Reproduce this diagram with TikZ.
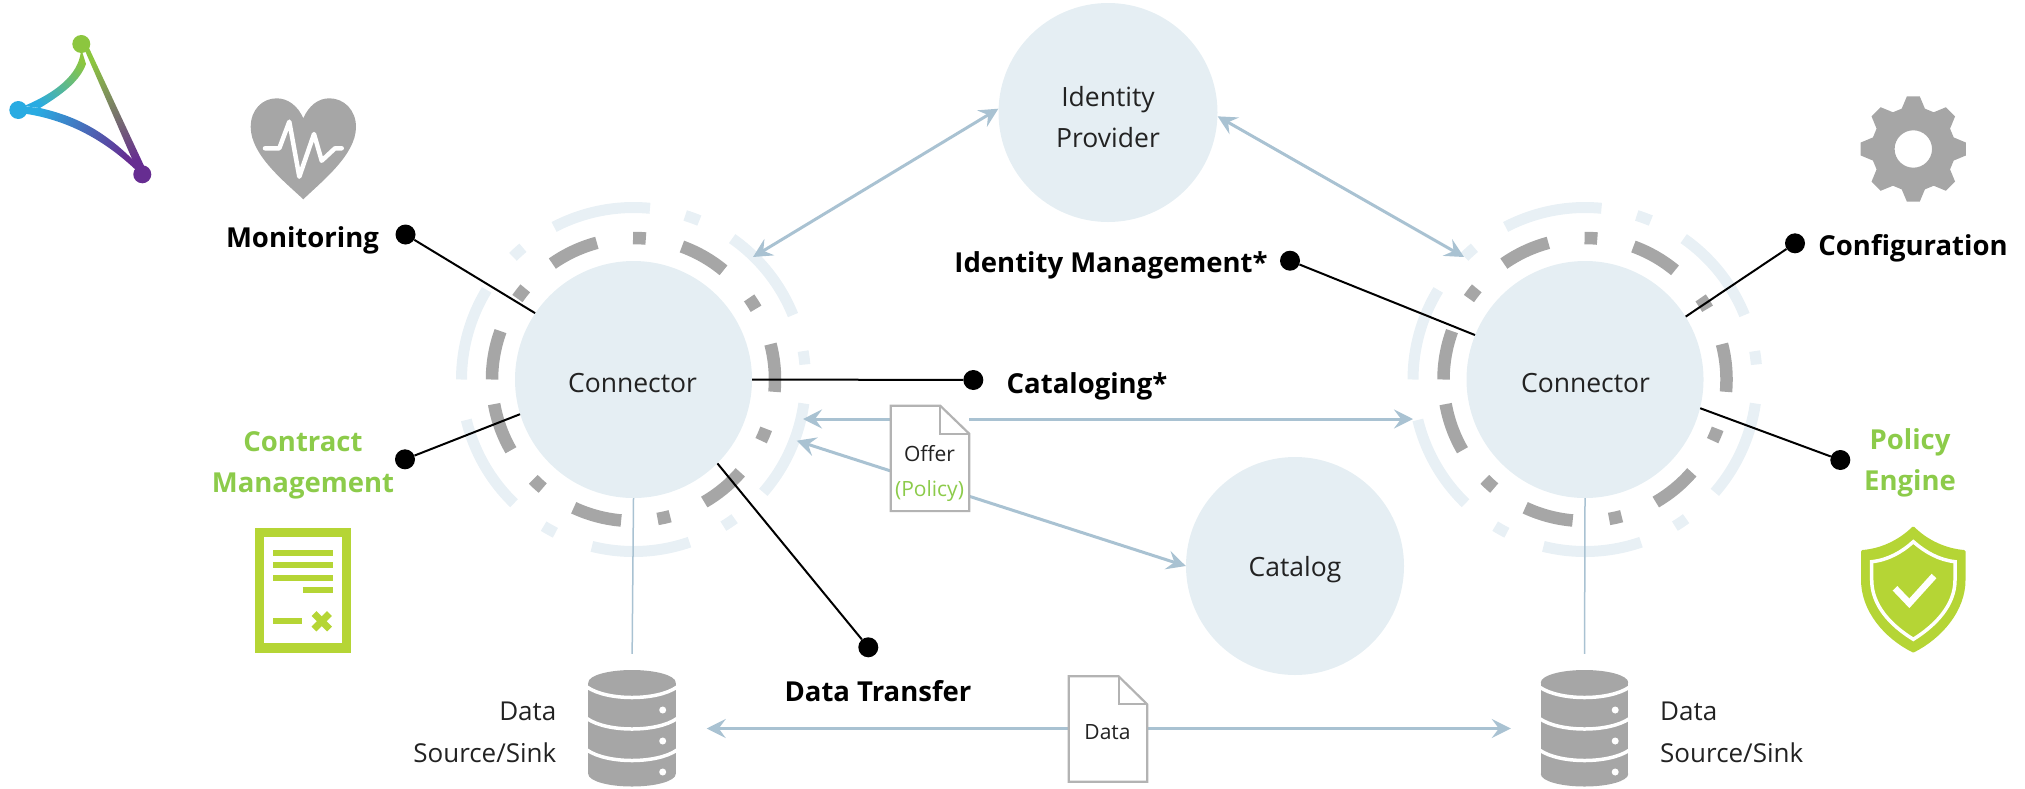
\documentclass[tikz,border=0pt]{standalone}
\usepackage{fontspec}
\usepackage{xcolor}
\usetikzlibrary{arrows.meta}
\setmainfont{Open Sans}
\definecolor{circlefill}{HTML}{E5EEF3}
\definecolor{ringfill}{HTML}{E8F0F5}
\definecolor{flowblue}{HTML}{A9C2D2}
\definecolor{icongray}{HTML}{A6A6A6}
\definecolor{icongreen}{HTML}{B5D535}
\definecolor{textgreen}{HTML}{8CCB4A}
\definecolor{docgray}{HTML}{B3B3B3}
\definecolor{textdark}{HTML}{222222}
\definecolor{logogreen}{HTML}{8CC63F}
\definecolor{logoblue}{HTML}{29ABE2}
\definecolor{logopurple}{HTML}{662D91}
\definecolor{logoteal}{HTML}{4F8F92}
\tikzset{
	bigcircle/.style={circle,fill=circlefill,inner sep=0pt},
	circletext/.style={inner sep=0pt,align=center,text=textdark,font=\fontsize{26.5}{41}\selectfont},
	grayring/.style={icongray,line width=12.5pt},
	lightring/.style={ringfill,line width=11pt},
	flow/.style={flowblue,line width=3pt,{Stealth[length=19pt,width=19pt,inset=7pt]}-{Stealth[length=19pt,width=19pt,inset=7pt]}},
	featureline/.style={black,line width=2pt},
	dot/.style={circle,fill=black,inner sep=0pt,minimum size=20pt},
	boldlabel/.style={inner sep=0pt,align=center,text=black,font=\fontsize{27.5}{41}\selectfont\bfseries},
	greenlabel/.style={boldlabel,text=textgreen},
	sinklabel/.style={inner sep=0pt,text=textdark,font=\fontsize{26}{42}\selectfont},
	docbox/.style={fill=white,inner sep=0pt,minimum width=78pt,minimum height=105pt},
	doctext/.style={inner sep=0pt,align=center,text=textdark,font=\fontsize{21}{35}\selectfont},
	docline/.style={docgray,line width=2.2pt},
	dbbox/.style={inner sep=0pt,minimum width=87pt,minimum height=117pt}
}
\newcommand{\ringset}[2]{
	\begin{scope}[shift={(#1,#2)}]
		\foreach \a/\b in {-5/14.5,30/35.2,50.5/70,85/90.2,105/125,139.9/145.1,160/180,190/210,224.9/230.1,245/265,279.8/285,300/319,334.4/339.6}
			\draw[grayring] (\a:141.5pt) arc[start angle=\a,end angle=\b,radius=141.5pt];
		\foreach \a/\b in {-104/-71,-58.5/-54,-41/-8,5/9.5,22/55,67.5/72.5,84.5/117.5,130/134.5,148.6/180,193.6/226,238.5/243}
			\draw[lightring] (\a:172pt) arc[start angle=\a,end angle=\b,radius=172pt];
	\end{scope}
}
\newcommand{\dbicon}[1]{
	\begin{scope}[shift={(#1,0)}]
		\fill[icongray] (0,682.5) ellipse[x radius=43.7pt,y radius=12.5pt];
		\fill[icongray] (-43.7,682.5) rectangle (43.7,774);
		\fill[icongray] (0,774) ellipse[x radius=43.7pt,y radius=12.5pt];
		\foreach \y in {687,718.5,750}
			\draw[white,line width=3.5pt] (-45,\y) .. controls (-25,\y+14) and (25,\y+14) .. (45,\y);
		\foreach \y in {710,741,772}
			\fill[white] (30.7,\y) circle[radius=3.5pt];
	\end{scope}
}
\newcommand{\docoutline}[3]{
	\draw[docline] (#1.south west) -- (#1.north west) -- ([xshift=-#2]#1.north east) -- ([yshift=-#3]#1.north east) -- (#1.south east) -- cycle;
	\draw[docline] ([xshift=-#2]#1.north east) |- ([yshift=-#3]#1.north east);
}
\begin{document}
\begin{tikzpicture}[x=1pt,y=-1pt]
	\useasboundingbox (0,0) rectangle (2025,788);
	\ringset{633.5}{379.5}
	\ringset{1585}{379.5}
	\shade[top color=logogreen,middle color=logoteal,bottom color=logopurple,shading angle=25] (83,46) -- (89,48) -- (146,170) -- (139,175) -- cycle;
	\shade[top color=logogreen,bottom color=logoblue,shading angle=-44] (81,48) .. controls (81,70) and (62,90) .. (24,106) -- (40,108) .. controls (66,92) and (80,80) .. (86,64) -- cycle;
	\shade[top color=logoblue,middle color=logoteal,bottom color=logopurple,shading angle=63] (20,106) -- (40,108) .. controls (75,116) and (105,130) .. (139,166) -- (139,173) .. controls (100,135) and (60,118) .. (20,113) -- cycle;
	\fill[logogreen] (81.3,44) circle[radius=9pt];
	\fill[logoblue] (18.3,110) circle[radius=9pt];
	\fill[logopurple] (142.3,174.3) circle[radius=9pt];
	\fill[icongray] (303.3,199.3) .. controls (285,182) and (250.7,155) .. (250.7,127) .. controls (250.7,110) and (262,98.3) .. (276.7,98.3) .. controls (288,98.3) and (298,106) .. (303.3,118.3) .. controls (308.6,106) and (318,98.3) .. (329.3,98.3) .. controls (344,98.3) and (356,110) .. (356,127) .. controls (356,155) and (321,182) .. (303.3,199.3) -- cycle;
	\draw[white,line width=4.5pt,line join=round,line cap=round] (265,148.3) -- (279.3,148.3) -- (289.3,121.7) -- (299.3,176.7) -- (314,134) -- (321.7,160.7) -- (335,148.3) -- (341.7,148.3);
	\draw[icongreen,line width=9.3pt] (259.7,532.3) rectangle (346.3,648);
	\foreach \y in {552.7,565,577.7}
		\draw[icongreen,line width=6pt] (273.3,\y) -- (332.7,\y);
	\draw[icongreen,line width=6pt] (302.7,590) -- (332.7,590);
	\draw[icongreen,line width=6pt] (273.3,621.3) -- (301.7,621.3);
	\draw[icongreen,line width=7pt] (314,613.5) -- (329.5,629);
	\draw[icongreen,line width=7pt] (329.5,613.5) -- (314,629);
	\begin{scope}[shift={(1913.3,149)}]
		\fill[icongray,even odd rule] (83:53pt) \foreach \a in {90,135,...,405}{ -- (\a-7:53pt) -- (\a+7:53pt) -- (\a+16:42pt) -- (\a+29:42pt)} -- cycle (0,0) circle[radius=18.7pt];
	\end{scope}
	\filldraw[icongreen,line width=3pt,line join=round] (1913.3,528) .. controls (1900,541) and (1882,550) .. (1862.5,551.5) -- (1862.5,580) .. controls (1862.5,610) and (1885,637) .. (1913.3,651) .. controls (1941,637) and (1964,610) .. (1964,580) -- (1964,551.5) .. controls (1945,550) and (1926,541) .. (1913.3,528) -- cycle;
	\draw[white,line width=3.5pt] (1913.3,541.7) .. controls (1902,552) and (1888,560) .. (1871.7,561.7) -- (1871.7,580) .. controls (1871.7,605) and (1890,625) .. (1913.3,639.3) .. controls (1936,625) and (1955,605) .. (1955,580) -- (1955,561.7) .. controls (1939,560) and (1925,552) .. (1913.3,541.7) -- cycle;
	\draw[white,line width=6.5pt] (1895,588.3) -- (1909.3,603.3) -- (1934,576);
	\dbicon{632}
	\dbicon{1584.5}
	\node[bigcircle,minimum size=237pt] (connL) at (633.5,379.5) {};
	\node[bigcircle,minimum size=237pt] (connR) at (1585,379.5) {};
	\node[bigcircle,minimum size=219pt] (idp) at (1108,112.5) {};
	\node[bigcircle,minimum size=218pt] (catalog) at (1295,566) {};
	\node[circletext] (connLText) at (632.5,383.5) {Connector};
	\node[circletext] (connRText) at (1585.5,383.5) {Connector};
	\node[circletext] (idpText) at (1108,117.5) {Identity\\Provider};
	\node[circletext] (catalogText) at (1295,570) {Catalog};
	\node[dbbox] (dbL) at (632,728.5) {};
	\node[dbbox] (dbR) at (1584.5,728.5) {};
	\coordinate (ringLne) at (753,257);
	\coordinate (ringRnw) at (1464,257);
	\coordinate (ringLe) at (803,419);
	\coordinate (ringRw) at (1413,419);
	\coordinate (ringLse) at (796.7,440.7);
	\draw[flow] (idp.178) -- (ringLne);
	\draw[flow] (idp.-2) -- (ringRnw);
	\draw[flow] (ringLe) -- (ringRw);
	\draw[flow] (ringLse) -- (catalog.180);
	\draw[flow,shorten <=31pt,shorten >=30pt] (dbL.east) -- (dbR.west);
	\draw[flowblue,line width=1.5pt,shorten >=16pt] (connL.south) -- (dbL.north);
	\draw[flowblue,line width=1.5pt,shorten >=16pt] (connR.south) -- (dbR.north);
	\node[docbox] (offer) at (930,458.4) {};
	\docoutline{offer}{29pt}{28pt}
	\node[doctext] (offerText) at (929.5,473) {Offer\\\textcolor{textgreen}{(Policy)}};
	\node[docbox] (datadoc) at (1108,729) {};
	\docoutline{datadoc}{28.6pt}{28pt}
	\node[doctext] (datadocText) at (1107.5,732) {Data};
	\node[dot] (monitoringDot) at (405.5,234.5) {};
	\node[dot] (contractDot) at (405,459.3) {};
	\node[dot] (catalogingDot) at (973.3,380) {};
	\node[dot] (transferDot) at (868.3,647.3) {};
	\node[dot] (identityDot) at (1290,260.7) {};
	\node[dot] (configDot) at (1795,243.3) {};
	\node[dot] (policyDot) at (1840.3,460) {};
	\draw[featureline] (monitoringDot) -- (connL.146.6);
	\draw[featureline] (contractDot) -- (connL.197.4);
	\draw[featureline] (catalogingDot) -- (connL.0);
	\draw[featureline] (transferDot) -- (connL.-45);
	\draw[featureline] (identityDot) -- (connR.158.7);
	\draw[featureline] (configDot) -- (connR.32.5);
	\draw[featureline] (policyDot) -- (connR.-14.4);
	\node[boldlabel] (monitoringLabel) at (302.5,240.5) {Monitoring};
	\node[greenlabel] (contractLabel) at (303,465) {Contract\\Management};
	\node[boldlabel] (catalogingLabel) at (1087,386) {Cataloging*};
	\node[boldlabel] (transferLabel) at (878,691) {Data Transfer};
	\node[boldlabel] (identityLabel) at (1111,265.5) {Identity Management*};
	\node[boldlabel] (configLabel) at (1913,248.5) {Configuration};
	\node[greenlabel] (policyLabel) at (1910,462.5) {Policy\\Engine};
	\node[sinklabel,align=right,anchor=east] (sinkL) at (556.5,732.5) {Data\\Source/Sink};
	\node[sinklabel,align=left,anchor=west] (sinkR) at (1660,732.5) {Data\\Source/Sink};
\end{tikzpicture}
\end{document}
